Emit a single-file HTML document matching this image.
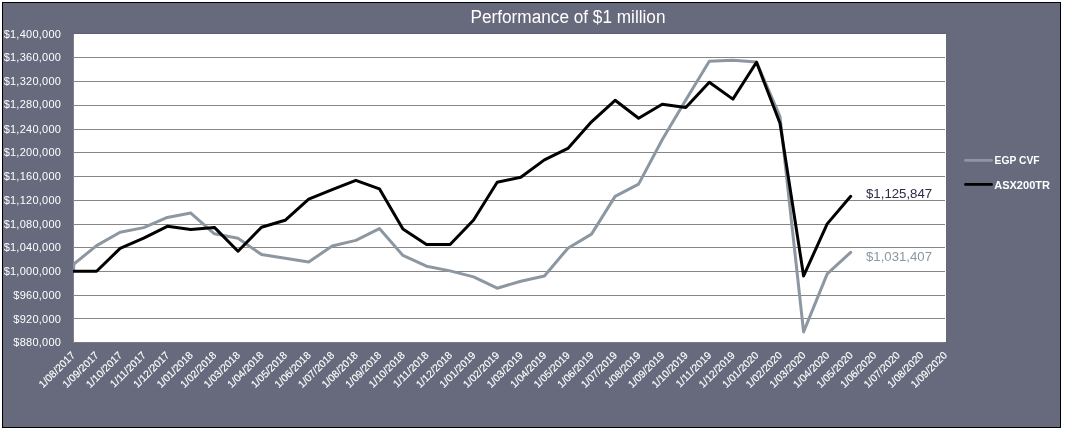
<!DOCTYPE html>
<html><head><meta charset="utf-8"><title>Performance of $1 million</title>
<style>html,body{margin:0;padding:0;background:#fff;}body{width:1066px;height:432px;overflow:hidden;position:relative;font-family:"Liberation Sans",sans-serif;}svg{position:absolute;left:0;top:0;display:block}text{font-family:"Liberation Sans",sans-serif;}</style></head><body>
<svg width="1066" height="432" viewBox="0 0 1066 432">
<rect x="2.5" y="2.5" width="1058" height="425" fill="#676a7d" stroke="#000" stroke-width="1"/>
<rect x="74" y="34" width="872" height="308" fill="#fff"/>
<line x1="74" x2="946" y1="33.5" y2="33.5" stroke="#5d6074" stroke-width="1"/>
<line x1="73" x2="945" y1="57.5" y2="57.5" stroke="#868686" stroke-width="1"/>
<line x1="73" x2="945" y1="81.5" y2="81.5" stroke="#868686" stroke-width="1"/>
<line x1="73" x2="945" y1="105.5" y2="105.5" stroke="#868686" stroke-width="1"/>
<line x1="73" x2="945" y1="129.5" y2="129.5" stroke="#868686" stroke-width="1"/>
<line x1="73" x2="945" y1="152.5" y2="152.5" stroke="#868686" stroke-width="1"/>
<line x1="73" x2="945" y1="176.5" y2="176.5" stroke="#868686" stroke-width="1"/>
<line x1="73" x2="945" y1="200.5" y2="200.5" stroke="#868686" stroke-width="1"/>
<line x1="73" x2="945" y1="224.5" y2="224.5" stroke="#868686" stroke-width="1"/>
<line x1="73" x2="945" y1="247.5" y2="247.5" stroke="#868686" stroke-width="1"/>
<line x1="73" x2="945" y1="271.5" y2="271.5" stroke="#868686" stroke-width="1"/>
<line x1="73" x2="945" y1="295.5" y2="295.5" stroke="#868686" stroke-width="1"/>
<line x1="73" x2="945" y1="318.5" y2="318.5" stroke="#868686" stroke-width="1"/>
<line x1="73" x2="945" y1="342.5" y2="342.5" stroke="#868686" stroke-width="1" opacity="0.55"/>
<line x1="73.5" x2="73.5" y1="34" y2="343" stroke="#868686" stroke-width="1" opacity="0.8"/>
<clipPath id="c"><rect x="73" y="30" width="880" height="316"/></clipPath>
<g clip-path="url(#c)" fill="none" stroke-linejoin="round" stroke-linecap="round"><polyline points="73.5,271.2 73.9,264 96.6,245.6 120.1,232.3 143.7,227.6 167.3,217.4 190.8,213.1 214.4,233.8 238.0,238.3 261.5,254.5 285.1,258.2 308.7,262.0 332.2,246.0 355.8,240.4 379.4,228.6 402.9,255.4 426.5,266.2 450.1,270.9 473.6,276.9 497.2,288.2 520.8,281.2 544.4,276.0 567.9,248.2 591.5,234.1 615.1,196.4 638.6,184.1 662.2,139.8 685.8,99.9 709.3,61.3 732.9,60.3 756.5,61.9 780.0,116.7 803.6,331.9 827.2,273.9 850.7,252.3" stroke="#8d97a1" stroke-width="3"/><polyline points="73.0,271.3 96.6,271.3 120.1,248.4 143.7,238.1 167.3,226.3 190.8,229.5 214.4,227.4 238.0,251.2 261.5,227.2 285.1,220.3 308.7,199.1 332.2,189.7 355.8,180.3 379.4,188.8 402.9,229.1 426.5,244.4 450.1,244.5 473.6,220.0 497.2,182.2 520.8,177.2 544.4,159.9 567.9,148.4 591.5,121.8 615.1,100.3 638.6,118.2 662.2,104.3 685.8,107.4 709.3,82.2 732.9,99.1 756.5,62.3 780.0,123.2 803.6,275.9 827.2,223.9 850.7,196.3" stroke="#000" stroke-width="3"/></g>
<text x="568" y="23.0" text-anchor="middle" fill="#fff" font-size="17.6" textLength="195" lengthAdjust="spacingAndGlyphs">Performance of $1 million</text>
<text x="61.2" y="37.9" text-anchor="end" fill="#fff" font-size="11" letter-spacing="0.25">$1,400,000</text>
<text x="61.2" y="61.3" text-anchor="end" fill="#fff" font-size="11" letter-spacing="0.25">$1,360,000</text>
<text x="61.2" y="84.7" text-anchor="end" fill="#fff" font-size="11" letter-spacing="0.25">$1,320,000</text>
<text x="61.2" y="108.3" text-anchor="end" fill="#fff" font-size="11" letter-spacing="0.25">$1,280,000</text>
<text x="61.2" y="132.7" text-anchor="end" fill="#fff" font-size="11" letter-spacing="0.25">$1,240,000</text>
<text x="61.2" y="155.9" text-anchor="end" fill="#fff" font-size="11" letter-spacing="0.25">$1,200,000</text>
<text x="61.2" y="179.7" text-anchor="end" fill="#fff" font-size="11" letter-spacing="0.25">$1,160,000</text>
<text x="61.2" y="203.9" text-anchor="end" fill="#fff" font-size="11" letter-spacing="0.25">$1,120,000</text>
<text x="61.2" y="227.7" text-anchor="end" fill="#fff" font-size="11" letter-spacing="0.25">$1,080,000</text>
<text x="61.2" y="250.9" text-anchor="end" fill="#fff" font-size="11" letter-spacing="0.25">$1,040,000</text>
<text x="61.2" y="275.0" text-anchor="end" fill="#fff" font-size="11" letter-spacing="0.25">$1,000,000</text>
<text x="61.2" y="298.9" text-anchor="end" fill="#fff" font-size="11" letter-spacing="0.25">$960,000</text>
<text x="61.2" y="322.7" text-anchor="end" fill="#fff" font-size="11" letter-spacing="0.25">$920,000</text>
<text x="61.2" y="345.5" text-anchor="end" fill="#fff" font-size="11" letter-spacing="0.25">$880,000</text>
<text transform="translate(75.8,355.9) rotate(-45)" text-anchor="end" fill="#fff" stroke="#fff" stroke-width="0.15" font-size="10.4">1/08/2017</text>
<text transform="translate(99.4,355.9) rotate(-45)" text-anchor="end" fill="#fff" stroke="#fff" stroke-width="0.15" font-size="10.4">1/09/2017</text>
<text transform="translate(122.9,355.9) rotate(-45)" text-anchor="end" fill="#fff" stroke="#fff" stroke-width="0.15" font-size="10.4">1/10/2017</text>
<text transform="translate(146.5,355.9) rotate(-45)" text-anchor="end" fill="#fff" stroke="#fff" stroke-width="0.15" font-size="10.4">1/11/2017</text>
<text transform="translate(170.1,355.9) rotate(-45)" text-anchor="end" fill="#fff" stroke="#fff" stroke-width="0.15" font-size="10.4">1/12/2017</text>
<text transform="translate(193.6,355.9) rotate(-45)" text-anchor="end" fill="#fff" stroke="#fff" stroke-width="0.15" font-size="10.4">1/01/2018</text>
<text transform="translate(217.2,355.9) rotate(-45)" text-anchor="end" fill="#fff" stroke="#fff" stroke-width="0.15" font-size="10.4">1/02/2018</text>
<text transform="translate(240.8,355.9) rotate(-45)" text-anchor="end" fill="#fff" stroke="#fff" stroke-width="0.15" font-size="10.4">1/03/2018</text>
<text transform="translate(264.3,355.9) rotate(-45)" text-anchor="end" fill="#fff" stroke="#fff" stroke-width="0.15" font-size="10.4">1/04/2018</text>
<text transform="translate(287.9,355.9) rotate(-45)" text-anchor="end" fill="#fff" stroke="#fff" stroke-width="0.15" font-size="10.4">1/05/2018</text>
<text transform="translate(311.5,355.9) rotate(-45)" text-anchor="end" fill="#fff" stroke="#fff" stroke-width="0.15" font-size="10.4">1/06/2018</text>
<text transform="translate(335.0,355.9) rotate(-45)" text-anchor="end" fill="#fff" stroke="#fff" stroke-width="0.15" font-size="10.4">1/07/2018</text>
<text transform="translate(358.6,355.9) rotate(-45)" text-anchor="end" fill="#fff" stroke="#fff" stroke-width="0.15" font-size="10.4">1/08/2018</text>
<text transform="translate(382.2,355.9) rotate(-45)" text-anchor="end" fill="#fff" stroke="#fff" stroke-width="0.15" font-size="10.4">1/09/2018</text>
<text transform="translate(405.7,355.9) rotate(-45)" text-anchor="end" fill="#fff" stroke="#fff" stroke-width="0.15" font-size="10.4">1/10/2018</text>
<text transform="translate(429.3,355.9) rotate(-45)" text-anchor="end" fill="#fff" stroke="#fff" stroke-width="0.15" font-size="10.4">1/11/2018</text>
<text transform="translate(452.9,355.9) rotate(-45)" text-anchor="end" fill="#fff" stroke="#fff" stroke-width="0.15" font-size="10.4">1/12/2018</text>
<text transform="translate(476.4,355.9) rotate(-45)" text-anchor="end" fill="#fff" stroke="#fff" stroke-width="0.15" font-size="10.4">1/01/2019</text>
<text transform="translate(500.0,355.9) rotate(-45)" text-anchor="end" fill="#fff" stroke="#fff" stroke-width="0.15" font-size="10.4">1/02/2019</text>
<text transform="translate(523.6,355.9) rotate(-45)" text-anchor="end" fill="#fff" stroke="#fff" stroke-width="0.15" font-size="10.4">1/03/2019</text>
<text transform="translate(547.2,355.9) rotate(-45)" text-anchor="end" fill="#fff" stroke="#fff" stroke-width="0.15" font-size="10.4">1/04/2019</text>
<text transform="translate(570.7,355.9) rotate(-45)" text-anchor="end" fill="#fff" stroke="#fff" stroke-width="0.15" font-size="10.4">1/05/2019</text>
<text transform="translate(594.3,355.9) rotate(-45)" text-anchor="end" fill="#fff" stroke="#fff" stroke-width="0.15" font-size="10.4">1/06/2019</text>
<text transform="translate(617.9,355.9) rotate(-45)" text-anchor="end" fill="#fff" stroke="#fff" stroke-width="0.15" font-size="10.4">1/07/2019</text>
<text transform="translate(641.4,355.9) rotate(-45)" text-anchor="end" fill="#fff" stroke="#fff" stroke-width="0.15" font-size="10.4">1/08/2019</text>
<text transform="translate(665.0,355.9) rotate(-45)" text-anchor="end" fill="#fff" stroke="#fff" stroke-width="0.15" font-size="10.4">1/09/2019</text>
<text transform="translate(688.6,355.9) rotate(-45)" text-anchor="end" fill="#fff" stroke="#fff" stroke-width="0.15" font-size="10.4">1/10/2019</text>
<text transform="translate(712.1,355.9) rotate(-45)" text-anchor="end" fill="#fff" stroke="#fff" stroke-width="0.15" font-size="10.4">1/11/2019</text>
<text transform="translate(735.7,355.9) rotate(-45)" text-anchor="end" fill="#fff" stroke="#fff" stroke-width="0.15" font-size="10.4">1/12/2019</text>
<text transform="translate(759.3,355.9) rotate(-45)" text-anchor="end" fill="#fff" stroke="#fff" stroke-width="0.15" font-size="10.4">1/01/2020</text>
<text transform="translate(782.8,355.9) rotate(-45)" text-anchor="end" fill="#fff" stroke="#fff" stroke-width="0.15" font-size="10.4">1/02/2020</text>
<text transform="translate(806.4,355.9) rotate(-45)" text-anchor="end" fill="#fff" stroke="#fff" stroke-width="0.15" font-size="10.4">1/03/2020</text>
<text transform="translate(830.0,355.9) rotate(-45)" text-anchor="end" fill="#fff" stroke="#fff" stroke-width="0.15" font-size="10.4">1/04/2020</text>
<text transform="translate(853.5,355.9) rotate(-45)" text-anchor="end" fill="#fff" stroke="#fff" stroke-width="0.15" font-size="10.4">1/05/2020</text>
<text transform="translate(877.1,355.9) rotate(-45)" text-anchor="end" fill="#fff" stroke="#fff" stroke-width="0.15" font-size="10.4">1/06/2020</text>
<text transform="translate(900.7,355.9) rotate(-45)" text-anchor="end" fill="#fff" stroke="#fff" stroke-width="0.15" font-size="10.4">1/07/2020</text>
<text transform="translate(924.2,355.9) rotate(-45)" text-anchor="end" fill="#fff" stroke="#fff" stroke-width="0.15" font-size="10.4">1/08/2020</text>
<text transform="translate(947.8,355.9) rotate(-45)" text-anchor="end" fill="#fff" stroke="#fff" stroke-width="0.15" font-size="10.4">1/09/2020</text>
<text x="866" y="197.9" fill="#2b2b47" font-size="13" textLength="66.2" lengthAdjust="spacingAndGlyphs">$1,125,847</text>
<text x="866" y="260.8" fill="#8d97a1" font-size="13" textLength="66" lengthAdjust="spacingAndGlyphs">$1,031,407</text>
<g stroke-width="2.8" stroke-linecap="round"><line x1="965.5" x2="991.5" y1="160.4" y2="160.4" stroke="#8d97a1"/><line x1="965.5" x2="991.5" y1="184.4" y2="184.4" stroke="#000"/></g>
<text x="994.6" y="163.9" fill="#fff" font-size="10.6" font-weight="bold" textLength="45" lengthAdjust="spacingAndGlyphs">EGP CVF</text>
<text x="994.2" y="189" fill="#fff" font-size="10.6" font-weight="bold" textLength="55.8" lengthAdjust="spacingAndGlyphs">ASX200TR</text>
</svg></body></html>
